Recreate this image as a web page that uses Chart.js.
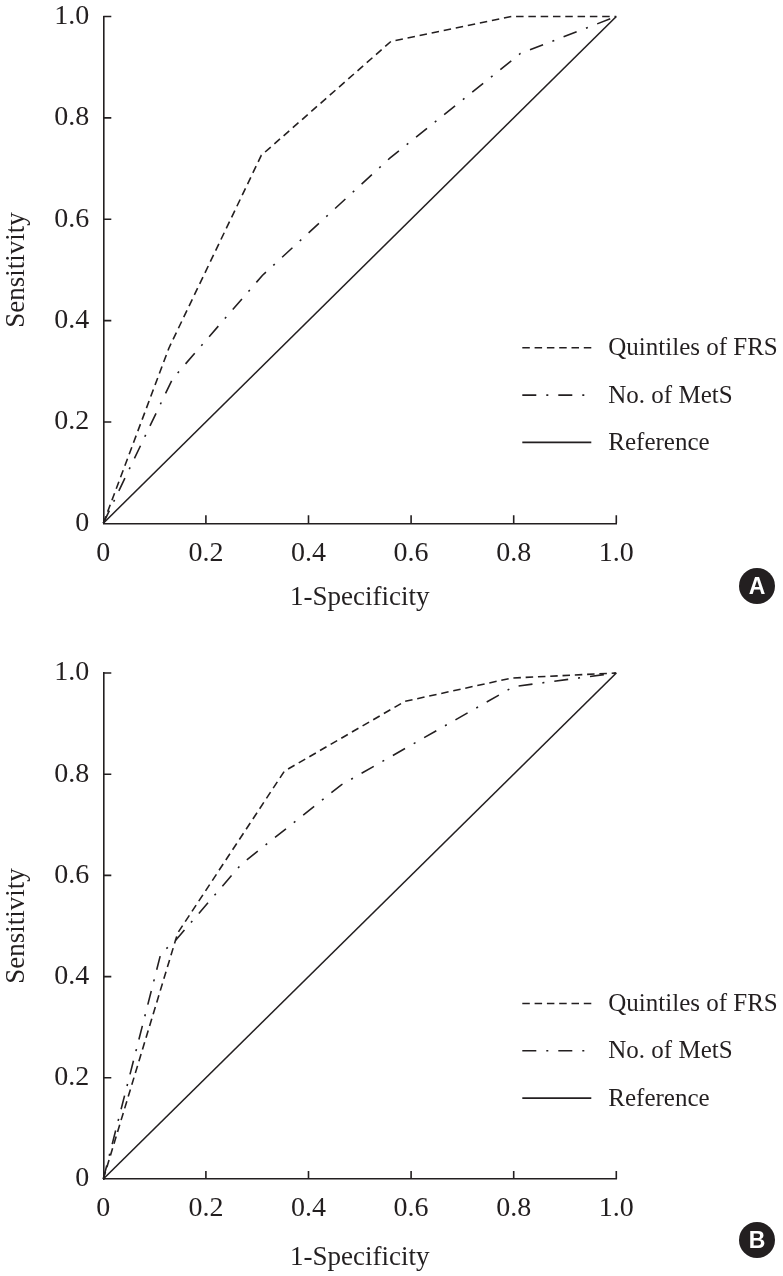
<!DOCTYPE html>
<html>
<head>
<meta charset="utf-8">
<script src="https://cdn.jsdelivr.net/npm/chart.js@4.4.0/dist/chart.umd.min.js"></script>
<style>
body { margin: 0; background: #fff; width: 783px; height: 1276px; position: relative; overflow: hidden; }
canvas { position: absolute; left: 0; }
.badge { position: absolute; width: 36px; height: 36px; border-radius: 50%; background: #231f20; color: #fff;
         font: bold 23px "Liberation Sans", Arial, sans-serif; text-align: center; line-height: 37px; }
</style>
</head>
<body>
<canvas id="grafica-a" width="783" height="650" style="top:-30px"></canvas>
<canvas id="grafica-b" width="783" height="646" style="top:630px"></canvas>
<div class="badge" style="left:739px;top:568px">A</div>
<div class="badge" style="left:739px;top:1222px">B</div>
<script>
// --- Datos ---
const etiquetasEje = ['0', '0.2', '0.4', '0.6', '0.8', '1.0'];
const nombresSeries = ['Quintiles of FRS', 'No. of MetS', 'Reference'];
const tituloX = '1-Specificity';
const tituloY = 'Sensitivity';

// Panel A
const frsA_x = [0, 0.128, 0.308, 0.561, 0.796, 1.0];
const frsA_y = [0, 0.346, 0.726, 0.951, 1.0, 1.0];
const metsA_x = [0, 0.135, 0.31, 0.558, 0.813, 1.0];
const metsA_y = [0, 0.285, 0.489, 0.72, 0.927, 1.0];

// Panel B
const frsB_x = [0, 0.145, 0.353, 0.588, 0.796, 1.0];
const frsB_y = [0, 0.486, 0.806, 0.944, 0.99, 1.0];
const metsB_x = [0, 0.112, 0.142, 0.269, 0.464, 0.80, 1.0];
const metsB_y = [0, 0.445, 0.473, 0.622, 0.779, 0.973, 1.0];

// Linea de referencia
const refX = [0, 1];
const refY = [0, 1];

const TINTA = '#231f20';
Chart.defaults.font.family = "'Liberation Serif', 'DejaVu Serif', serif";
Chart.defaults.color = TINTA;

function puntos(xs, ys) {
    return xs.map((x, i) => ({ x: x, y: ys[i] }));
}

// --- Marcas hacia adentro en los ejes ---
const marcasInternas = {
    id: 'marcasInternas',
    afterDraw(chart) {
        const ctx = chart.ctx;
        const area = chart.chartArea;
        const sx = chart.scales.x, sy = chart.scales.y;
        ctx.save();
        ctx.strokeStyle = TINTA;
        ctx.lineWidth = 1.6;
        ctx.beginPath();
        sx.ticks.forEach(t => {
            if (t.value === 0) return;
            const px = sx.getPixelForValue(t.value);
            ctx.moveTo(px, area.bottom);
            ctx.lineTo(px, area.bottom - 8);
        });
        sy.ticks.forEach(t => {
            if (t.value === 0) return;
            const py = sy.getPixelForValue(t.value);
            ctx.moveTo(area.left, py);
            ctx.lineTo(area.left + 8, py);
        });
        ctx.stroke();
        ctx.restore();
    }
};

// --- Leyenda dentro del area ---
const leyendaInterna = {
    id: 'leyendaInterna',
    afterDraw(chart) {
        const ctx = chart.ctx;
        const area = chart.chartArea;
        ctx.save();
        chart.data.datasets.forEach((ds, i) => {
            const yy = area.bottom - 175.5 + i * 47.3;
            ctx.strokeStyle = ds.borderColor;
            ctx.lineWidth = ds.borderWidth;
            ctx.setLineDash(ds.borderDash || []);
            ctx.beginPath();
            ctx.moveTo(area.left + 419, yy);
            ctx.lineTo(area.left + 488, yy);
            ctx.stroke();
            ctx.setLineDash([]);
            ctx.fillStyle = TINTA;
            ctx.font = "25px 'Liberation Serif', 'DejaVu Serif', serif";
            ctx.textAlign = 'left';
            ctx.textBaseline = 'middle';
            ctx.fillText(ds.label, area.left + 505, yy + 1);
        });
        ctx.restore();
    }
};

// --- Grafica ROC ---
function graficarROC(canvasId, frs, mets, margenSup, alturaEjeX, padTituloX) {
    const ctx = document.getElementById(canvasId).getContext('2d');
    return new Chart(ctx, {
        type: 'line',
        data: {
            datasets: [
                { label: nombresSeries[0], data: frs, borderColor: TINTA, borderWidth: 1.6, borderDash: [7.5, 4.8] },
                { label: nombresSeries[1], data: mets, borderColor: TINTA, borderWidth: 1.6, borderDash: [14, 10, 2, 10] },
                { label: nombresSeries[2], data: puntos(refX, refY), borderColor: TINTA, borderWidth: 1.6, borderDash: [] }
            ]
        },
        options: {
            responsive: false,
            animation: false,
            clip: false,
            elements: { point: { radius: 0 }, line: { tension: 0 } },
            layout: { padding: { top: margenSup, right: 166.7, left: 0, bottom: 0 } },
            plugins: { legend: { display: false }, tooltip: { enabled: false } },
            scales: {
                x: {
                    type: 'linear', min: 0, max: 1,
                    afterFit: s => { s.height = alturaEjeX; },
                    grid: { display: false, drawTicks: false },
                    border: { display: true, color: TINTA, width: 1.6 },
                    ticks: {
                        stepSize: 0.2, padding: 16, color: TINTA, maxRotation: 0,
                        font: { size: 28, lineHeight: 1 },
                        callback: (v, i) => etiquetasEje[i]
                    },
                    title: {
                        display: true, text: tituloX, color: TINTA,
                        font: { size: 27, lineHeight: 1 },
                        padding: { top: 0, bottom: padTituloX }
                    }
                },
                y: {
                    type: 'linear', min: 0, max: 1,
                    afterFit: s => { s.width = 103.3; },
                    grid: { display: false, drawTicks: false },
                    border: { display: true, color: TINTA, width: 1.6 },
                    ticks: {
                        stepSize: 0.2, padding: 14, color: TINTA,
                        font: { size: 28, lineHeight: 1 },
                        callback: (v, i) => etiquetasEje[i]
                    },
                    title: {
                        display: true, text: tituloY, color: TINTA,
                        font: { size: 27, lineHeight: 1 },
                        padding: { top: 3, bottom: 0 }
                    }
                }
            }
        },
        plugins: [marcasInternas, leyendaInterna]
    });
}

graficarROC('grafica-a', puntos(frsA_x, frsA_y), puntos(metsA_x, metsA_y), 46.5, 96.7, 9);
graficarROC('grafica-b', puntos(frsB_x, frsB_y), puntos(metsB_x, metsB_y), 43, 97, 5);
</script>
</body>
</html>
